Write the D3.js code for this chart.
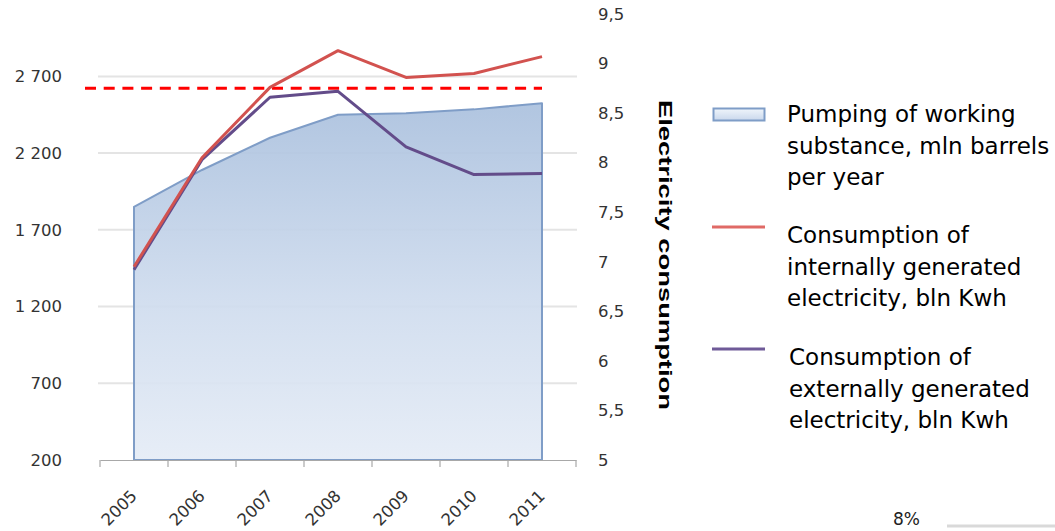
<!DOCTYPE html>
<html>
<head>
<meta charset="utf-8">
<script src="https://cdn.jsdelivr.net/npm/d3@7"></script>
<style>
  html, body { margin: 0; padding: 0; background: #fff; }
  svg { display: block; }
</style>
</head>
<body>
<svg id="chart" width="1055" height="531"></svg>
<script>
// Years on the horizontal axis
const years = ["2005", "2006", "2007", "2008", "2009", "2010", "2011"];
// Pumping of working substance, mln barrels per year (left axis)
const pumping = [1850, 2090, 2300, 2450, 2460, 2485, 2525];
// Consumption of internally generated electricity, bln Kwh (right axis)
const internalPower = [6.95, 8.05, 8.76, 9.13, 8.86, 8.90, 9.07];
// Consumption of externally generated electricity, bln Kwh (right axis)
const externalPower = [6.92, 8.03, 8.66, 8.72, 8.16, 7.88, 7.89];
// Tick values
const leftTicks = [200, 700, 1200, 1700, 2200, 2700];
const rightTicks = [5, 5.5, 6, 6.5, 7, 7.5, 8, 8.5, 9, 9.5];
// Reference level (right axis units), drawn as a dashed red line
const referenceLevel = 8.75;

const legendItems = [
  { kind: "area", lines: ["Pumping of working", "substance, mln barrels", "per year"] },
  { kind: "red", lines: ["Consumption of", "internally generated", "electricity, bln Kwh"] },
  { kind: "purple", lines: ["Consumption of", "externally generated", "electricity, bln Kwh"] }
];

const svg = d3.select("#chart");

const COLORS = {
  red: "#d2524f",
  purple: "#634c8a",
  areaStroke: "#7f9dc7",
  grid: "#e4e4e4",
  axis: "#a8a8a8",
  label: "#333333",
  dash: "#ff0000"
};

const plot = { left: 100, right: 576, top: 14, bottom: 460 };

const x = d3.scaleBand().domain(years).range([plot.left, plot.right]).padding(0);
const cx = d => x(d) + x.bandwidth() / 2;

const yL = d3.scaleLinear().domain([200, 3100]).range([plot.bottom, plot.top + 1]);
const yR = d3.scaleLinear().domain([5, 9.5]).range([plot.bottom, plot.top]);

const locale = d3.formatLocale({ decimal: ",", thousands: "\u2009", grouping: [3], currency: ["", ""] });
const fmtLeft = v => locale.format(",d")(v).replace("\u2009", " ");
const fmtRight = locale.format(".1~f");

// Gradient for the area fill
const defs = svg.append("defs");
const grad = defs.append("linearGradient")
  .attr("id", "areaGrad")
  .attr("gradientUnits", "userSpaceOnUse")
  .attr("x1", 0).attr("x2", 0)
  .attr("y1", yL(d3.max(pumping))).attr("y2", yL(200));
grad.append("stop").attr("offset", "0%").attr("stop-color", "#abc1de");
grad.append("stop").attr("offset", "55%").attr("stop-color", "#cfdcee");
grad.append("stop").attr("offset", "100%").attr("stop-color", "#e5ecf6");

const swatchGrad = defs.append("linearGradient")
  .attr("id", "swatchGrad")
  .attr("x1", 0).attr("x2", 0).attr("y1", 0).attr("y2", 1);
swatchGrad.append("stop").attr("offset", "0%").attr("stop-color", "#f0f5fb");
swatchGrad.append("stop").attr("offset", "100%").attr("stop-color", "#c9d8ec");

// Horizontal gridlines
svg.append("g")
  .selectAll("line")
  .data(leftTicks.filter(v => v > 200))
  .join("line")
  .attr("x1", plot.left - 2).attr("x2", plot.right + 1)
  .attr("y1", d => yL(d)).attr("y2", d => yL(d))
  .attr("stroke", COLORS.grid)
  .attr("stroke-width", 2);

// Area series
const area = d3.area()
  .x((d, i) => cx(years[i]))
  .y0(yL(200))
  .y1(d => yL(d));
svg.append("path")
  .datum(pumping)
  .attr("d", area)
  .attr("fill", "url(#areaGrad)")
  .attr("fill-opacity", 0.93)
  .attr("stroke", COLORS.areaStroke)
  .attr("stroke-width", 2)
  .attr("stroke-linejoin", "round");

// Bottom axis
const xAxis = d3.axisBottom(x).tickSize(0).tickFormat("");
const gx = svg.append("g").attr("transform", `translate(0,${plot.bottom})`).call(xAxis);
gx.select(".domain").attr("stroke", COLORS.axis).attr("stroke-width", 1.2);
// tick marks at band boundaries
const edges = years.map(d => x(d)).concat([x(years[years.length - 1]) + x.bandwidth()]);
svg.append("g").selectAll("line")
  .data(edges)
  .join("line")
  .attr("x1", d => d).attr("x2", d => d)
  .attr("y1", plot.bottom).attr("y2", plot.bottom + 7)
  .attr("stroke", COLORS.axis)
  .attr("stroke-width", 1.2);

// Year labels
svg.append("g").selectAll("text")
  .data(years)
  .join("text")
  .attr("transform", d => `translate(${cx(d) + 4},${plot.bottom + 37}) rotate(-45)`)
  .attr("text-anchor", "end")
  .attr("font-family", "DejaVu Sans")
  .attr("font-size", 16.5)
  .attr("fill", COLORS.label)
  .text(d => d);

// Left axis labels
const yAxisL = d3.axisLeft(yL).tickValues(leftTicks).tickSize(0).tickPadding(0).tickFormat(fmtLeft);
const gL = svg.append("g").attr("transform", "translate(62,0)").call(yAxisL);
gL.select(".domain").remove();
gL.selectAll("text")
  .attr("font-family", "DejaVu Sans")
  .attr("font-size", 16.5)
  .attr("fill", COLORS.label);

// Right axis labels
const yAxisR = d3.axisRight(yR).tickValues(rightTicks).tickSize(0).tickPadding(0).tickFormat(fmtRight);
const gR = svg.append("g").attr("transform", "translate(598,0)").call(yAxisR);
gR.select(".domain").remove();
gR.selectAll("text")
  .attr("font-family", "DejaVu Sans")
  .attr("font-size", 16.5)
  .attr("fill", COLORS.label);

// Right axis title
svg.append("text")
  .attr("transform", "translate(659,255) rotate(90)")
  .attr("text-anchor", "middle")
  .attr("font-family", "Liberation Sans, Arial, sans-serif")
  .attr("font-weight", "bold")
  .attr("font-size", 18)
  .attr("textLength", 310)
  .attr("lengthAdjust", "spacingAndGlyphs")
  .attr("fill", "#000")
  .text("Electricity consumption");

// Reference dashed line
svg.append("line")
  .attr("x1", plot.left - 15)
  .attr("x2", cx(years[years.length - 1]))
  .attr("y1", yR(referenceLevel)).attr("y2", yR(referenceLevel))
  .attr("stroke", COLORS.dash)
  .attr("stroke-width", 3)
  .attr("stroke-dasharray", "11 7.7");

// Electricity lines
const line = d3.line().x((d, i) => cx(years[i])).y(d => yR(d));
svg.append("path")
  .datum(externalPower)
  .attr("d", line)
  .attr("fill", "none")
  .attr("stroke", COLORS.purple)
  .attr("stroke-width", 3)
  .attr("stroke-linejoin", "round");
svg.append("path")
  .datum(internalPower)
  .attr("d", line)
  .attr("fill", "none")
  .attr("stroke", COLORS.red)
  .attr("stroke-width", 3)
  .attr("stroke-linejoin", "round");

// Legend
const legendTop = [122, 243, 365];
const legendTextX = [787, 787, 789];
const legend = svg.append("g");
legendItems.forEach((item, i) => {
  const g = legend.append("g");
  const base = legendTop[i];
  if (item.kind === "area") {
    g.append("rect")
      .attr("x", 713.5).attr("y", base - 13.5)
      .attr("width", 51).attr("height", 12)
      .attr("fill", "url(#swatchGrad)")
      .attr("stroke", COLORS.areaStroke)
      .attr("stroke-width", 2);
  } else {
    g.append("line")
      .attr("x1", 712).attr("x2", 765)
      .attr("y1", base - 16).attr("y2", base - 16)
      .attr("stroke", item.kind === "red" ? "#e06a66" : "#6f5a98")
      .attr("stroke-width", 3);
  }
  g.append("text")
    .attr("font-family", "DejaVu Sans")
    .attr("font-size", 23)
    .attr("fill", "#000")
    .selectAll("tspan")
    .data(item.lines)
    .join("tspan")
    .attr("x", legendTextX[i])
    .attr("y", (d, j) => base + j * 31.5)
    .text(d => d);
});

// Fragment at the bottom right
svg.append("text")
  .attr("x", 893).attr("y", 525)
  .attr("font-family", "DejaVu Sans")
  .attr("font-size", 17)
  .attr("fill", "#222")
  .text("8%");
svg.append("line")
  .attr("x1", 947).attr("x2", 1055)
  .attr("y1", 526).attr("y2", 526)
  .attr("stroke", "#d9d9d9")
  .attr("stroke-width", 3);
</script>
</body>
</html>
